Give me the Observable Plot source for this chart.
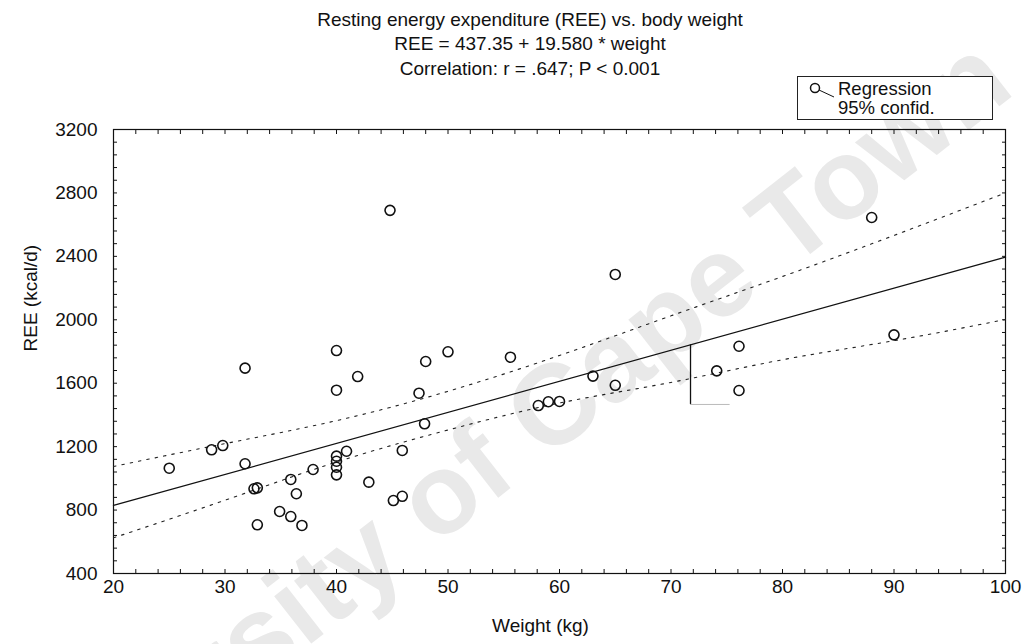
<!DOCTYPE html>
<html>
<head>
<meta charset="utf-8">
<script src="https://cdn.jsdelivr.net/npm/d3@7"></script>
<script src="https://cdn.jsdelivr.net/npm/@observablehq/plot@0.6"></script>
<style>
  body { margin: 0; background: #fff; font-family: "Liberation Sans", Arial, sans-serif; color: #111; }
  #wrap { position: relative; width: 1025px; height: 644px; overflow: hidden; }
  #wm { position: absolute; left: 472px; top: 468px; transform: translate(-50%, -50%) rotate(-38deg);
        white-space: nowrap; font-size: 114px; font-weight: bold; color: #e9e9e9; z-index: 0; }
  #head { position: relative; height: 115px; z-index: 1; }
  .t { position: absolute; left: 0; width: 1060px; text-align: center; font-size: 19px; line-height: 24px; }
  #legend { position: absolute; left: 797px; top: 76px; width: 194px; height: 42px; border: 1px solid #222; background: #fff; }
  #legend svg { position: absolute; left: 0; top: 0; }
  #legend .lt { position: absolute; left: 40px; font-size: 18.5px; line-height: 19px; }
  #chart { position: relative; z-index: 1; }
  #chart svg { background: transparent; }
</style>
</head>
<body>
<div id="wrap">
  <div id="wm">University of Cape Town</div>
  <div id="head">
    <div class="t" style="top:8px">Resting energy expenditure (REE) vs. body weight</div>
    <div class="t" style="top:32px">REE = 437.35 + 19.580 * weight</div>
    <div class="t" style="top:57px">Correlation: r = .647; P &lt; 0.001</div>
    <div id="legend">
      <svg width="40" height="42"><circle cx="17" cy="11" r="4.5" fill="none" stroke="#111" stroke-width="1.5"/><line x1="21" y1="13" x2="36" y2="20" stroke="#111" stroke-width="1"/></svg>
      <div class="lt" style="top:2px">Regression</div>
      <div class="lt" style="top:21px">95% confid.</div>
    </div>
  </div>
  <div id="chart"></div>
</div>
<script>
// Observed subjects: body weight (kg) and resting energy expenditure (kcal/d)
const weight = [25, 28.8, 29.8, 31.8, 31.8, 32.6, 32.9, 32.9, 34.9, 35.9, 35.9, 36.4, 36.9, 37.9,
  40, 40, 40, 40, 40, 40, 40.9, 41.9, 42.9, 44.8, 45.1, 45.9, 45.9, 47.4, 48, 47.9, 50,
  55.6, 58.1, 59, 60, 63, 65, 65, 74.1, 76.1, 76.1, 88, 90];
const ree = [1064, 1180, 1207, 1695, 1092, 934, 940, 707, 791, 759, 993, 903, 703, 1056,
  1806, 1556, 1140, 1108, 1070, 1022, 1171, 1642, 976, 2690, 860, 887, 1176, 1537, 1737, 1344, 1798,
  1764, 1459, 1483, 1485, 1645, 1587, 2286, 1678, 1833, 1554, 2645, 1905];

// Fitted line: REE = intercept + slope * weight
const intercept = 437.35;
const slope = 19.58;
const fitRange = [20, 100];

// 95% confidence band for the fitted line, sampled every 10 kg
const bandWeight = [20, 30, 40, 50, 60, 70, 80, 90, 100];
const bandUpper = [1075, 1219, 1364, 1549, 1775, 2025, 2273, 2532, 2800];
const bandLower = [625, 862, 1103, 1305, 1475, 1605, 1748, 1868, 2002];

// Stray bracket drawn on the figure near 72 kg
const bracketX = [71.75];
const bracketY = [1466];
const bracketEnd = [75.3];

// Axis ticks
const xTicks = [20, 30, 40, 50, 60, 70, 80, 90, 100];
const yTicks = [400, 800, 1200, 1600, 2000, 2400, 2800, 3200];
const xMinor = d3.range(20, 100.1, 2);
const yMinor = d3.range(400, 3200.1, 80);

const points = weight.map((w, i) => ({w, r: ree[i]}));
const fit = fitRange.map(w => ({w, r: intercept + slope * w}));
const upper = bandWeight.map((w, i) => ({w, r: bandUpper[i]}));
const lower = bandWeight.map((w, i) => ({w, r: bandLower[i]}));
const bracket = bracketX.map((x, i) => ({x, y: bracketY[i], top: intercept + slope * x, x2: bracketEnd[i]}));

const font = "19px";
const chart = Plot.plot({
  width: 1025,
  height: 529,
  marginTop: 14,
  marginBottom: 71,
  marginLeft: 113,
  marginRight: 20,
  style: {background: "transparent", fontFamily: "'Liberation Sans', Arial, sans-serif", fontSize: font, color: "#111"},
  x: {domain: [20, 100]},
  y: {domain: [400, 3200]},
  marks: [
    Plot.frame({stroke: "#111", strokeWidth: 1.2}),
    Plot.axisX(xTicks, {anchor: "bottom", tickSize: 0, tickPadding: 6, tickFormat: d => String(d), label: null, fontSize: font}),
    Plot.axisY(yTicks, {anchor: "left", tickSize: 0, tickPadding: 16, tickFormat: d => String(d), label: null, fontSize: font}),
    Plot.axisX(xMinor, {anchor: "bottom", tickSize: -4, fill: "none", label: null}),
    Plot.axisX(xMinor, {anchor: "top", tickSize: -4, fill: "none", label: null}),
    Plot.axisY(yMinor, {anchor: "left", tickSize: -4, fill: "none", label: null}),
    Plot.axisY(yMinor, {anchor: "right", tickSize: -4, fill: "none", label: null}),
    Plot.text(["Weight (kg)"], {frameAnchor: "bottom", dy: 58, dx: -19, text: d => d, fontSize: font}),
    Plot.text(["REE (kcal/d)"], {frameAnchor: "left", dx: -83, rotate: -90, text: d => d, fontSize: font}),
    Plot.line(upper, {x: "w", y: "r", curve: "natural", stroke: "#222", strokeWidth: 1.1, strokeDasharray: "2.5,6"}),
    Plot.line(lower, {x: "w", y: "r", curve: "natural", stroke: "#222", strokeWidth: 1.1, strokeDasharray: "2.5,6"}),
    Plot.line(fit, {x: "w", y: "r", stroke: "#111", strokeWidth: 1.3}),
    Plot.ruleX(bracket, {x: "x", y1: "y", y2: "top", stroke: "#111", strokeWidth: 1.3}),
    Plot.ruleY(bracket, {y: "y", x1: "x", x2: "x2", stroke: "#bbb", strokeWidth: 1}),
    Plot.dot(points, {x: "w", y: "r", r: 5, stroke: "#111", strokeWidth: 1.6, fill: "none"})
  ]
});
document.getElementById("chart").appendChild(chart);
</script>
</body>
</html>
